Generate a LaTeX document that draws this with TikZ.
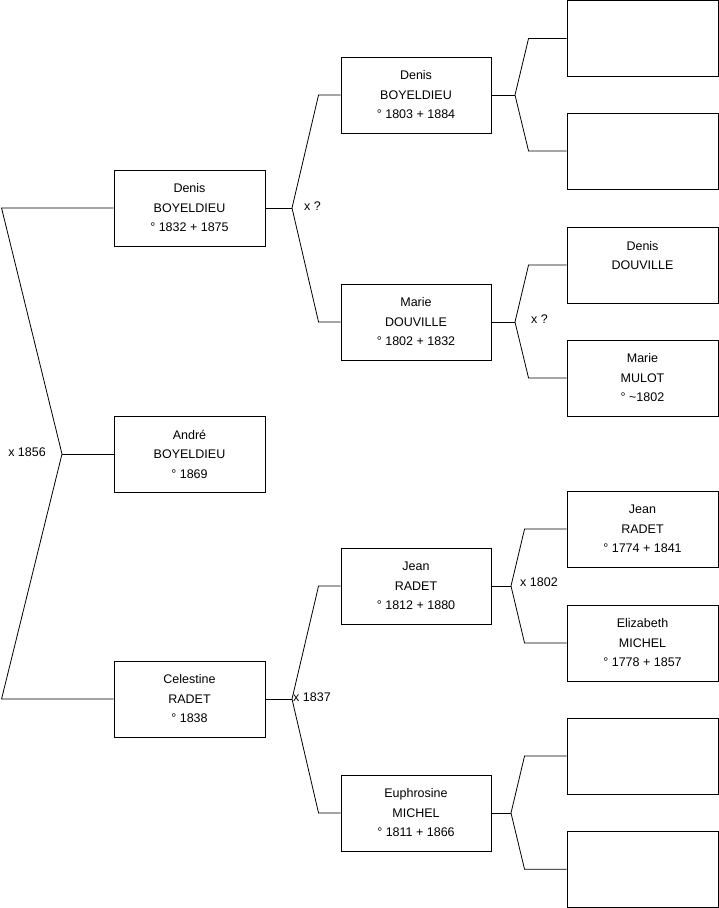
\documentclass[tikz,border=0pt]{standalone}
\usepackage{fontspec}
\setmainfont{Liberation Sans}
\begin{document}
\begin{tikzpicture}[x=1pt,y=-1pt,
  pbox/.style={draw, line width=0.9pt, minimum width=151pt, minimum height=76pt, inner sep=0pt, align=center, font=\fontsize{12.5}{19.5}\selectfont},
  conn/.style={line width=0.8pt},
  lbl/.style={inner sep=0pt, font=\fontsize{12.5}{15}\selectfont}]
\useasboundingbox (0,0) rectangle (719,908);
% column 1
\node[pbox] (d1) at (189.5,208) {Denis\\BOYELDIEU\\° 1832 + 1875};
\node[pbox] (a1) at (189.5,454) {André\\BOYELDIEU\\° 1869};
\node[pbox] (c1) at (189.5,699) {Celestine\\RADET\\° 1838};
% column 2
\node[pbox, minimum width=150pt] (d2) at (416,95) {Denis\\BOYELDIEU\\° 1803 + 1884};
\node[pbox, minimum width=150pt] (m2) at (416,322) {Marie\\DOUVILLE\\° 1802 + 1832};
\node[pbox, minimum width=150pt] (j2) at (416,586) {Jean\\RADET\\° 1812 + 1880};
\node[pbox, minimum width=150pt] (e2) at (416,813) {Euphrosine\\MICHEL\\° 1811 + 1866};
% column 3
\node[pbox] (b31) at (642.5,38.5) {};
\node[pbox] (b32) at (642.5,151) {};
\node[pbox] (b33) at (642.5,265) {Denis\\DOUVILLE\\\mbox{}};
\node[pbox] (b34) at (642.5,378) {Marie\\MULOT\\° \textasciitilde1802};
\node[pbox] (b35) at (642.5,529) {Jean\\RADET\\° 1774 + 1841};
\node[pbox] (b36) at (642.5,643) {Elizabeth\\MICHEL\\° 1778 + 1857};
\node[pbox] (b37) at (642.5,756) {};
\node[pbox] (b38) at (642.5,869.3) {};
% junctions
\coordinate (j0) at (62,454);
\coordinate (j1) at (292,208);
\coordinate (j2c) at (292,699);
\coordinate (k1) at (515,95);
\coordinate (k2) at (515,322);
\coordinate (k3) at (511,586);
\coordinate (k4) at (511,813);
% root level
\draw[conn] (d1.west) -- ([xshift=-112pt]d1.west) -- (j0) -- ([xshift=-112pt]c1.west) -- (c1.west);
\draw[conn] (j0) -- (a1.west);
% level 1
\draw[conn] (d1.east) -- (j1);
\draw[conn] (d2.west) -- ([xshift=-22pt]d2.west) -- (j1) -- ([xshift=-22pt]m2.west) -- (m2.west);
\draw[conn] (c1.east) -- (j2c);
\draw[conn] (j2.west) -- ([xshift=-22pt]j2.west) -- (j2c) -- ([xshift=-22pt]e2.west) -- (e2.west);
% level 2
\draw[conn] (d2.east) -- (k1);
\draw[conn] (b31.west) -- ([xshift=-38pt]b31.west) -- (k1) -- ([xshift=-38pt]b32.west) -- (b32.west);
\draw[conn] (m2.east) -- (k2);
\draw[conn] (b33.west) -- ([xshift=-38pt]b33.west) -- (k2) -- ([xshift=-38pt]b34.west) -- (b34.west);
\draw[conn] (j2.east) -- (k3);
\draw[conn] (b35.west) -- ([xshift=-42pt]b35.west) -- (k3) -- ([xshift=-42pt]b36.west) -- (b36.west);
\draw[conn] (e2.east) -- (k4);
\draw[conn] (b37.west) -- ([xshift=-42pt]b37.west) -- (k4) -- ([xshift=-42pt]b38.west) -- (b38.west);
% labels
\node[lbl, anchor=east] (l0) at (46,452.5) {x 1856};
\node[lbl, anchor=west] (l1) at (304,206.5) {x ?};
\node[lbl, anchor=west] (l2) at (293,697.5) {x 1837};
\node[lbl, anchor=west] (l3) at (531,319.5) {x ?};
\node[lbl, anchor=west] (l4) at (520,582.5) {x 1802};
\end{tikzpicture}
\end{document}
